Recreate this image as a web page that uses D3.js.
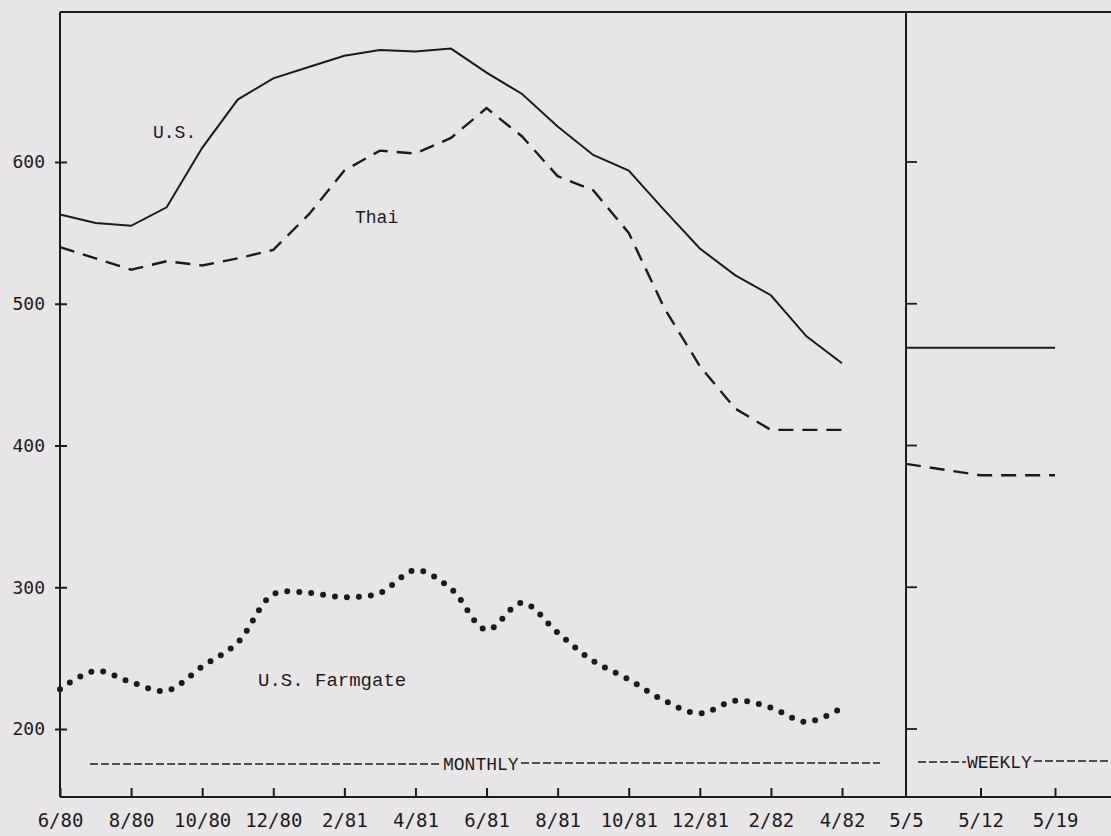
<!DOCTYPE html>
<html>
<head>
<meta charset="utf-8">
<script src="https://cdn.jsdelivr.net/npm/d3@7"></script>
<style>
  html, body { margin: 0; padding: 0; background: #e8e5e7; }
  svg { display: block; }
</style>
</head>
<body>
<svg id="chart" width="1111" height="836"></svg>
<script>
// ---- data ----
const months = ["6/80","7/80","8/80","9/80","10/80","11/80","12/80","1/81","2/81","3/81","4/81","5/81",
                "6/81","7/81","8/81","9/81","10/81","11/81","12/81","1/82","2/82","3/82","4/82"];
const monthLabels = ["6/80","8/80","10/80","12/80","2/81","4/81","6/81","8/81","10/81","12/81","2/82","4/82"];
const usPrice   = [563,557,555,568,610,644,659,667,675,679,678,680,663,648,625,605,594,566,539,520,506,477,458];
const thaiPrice = [540,532,524,530,527,532,538,563,594,608,606,617,638,618,590,580,550,497,456,426,411,411,411];
const farmgate  = [228,241,233,227,244,261,295,296,293,296,312,299,270,289,268,248,235,220,211,220,215,205,215];
const weeks = ["5/5","5/12","5/19"];
const usWeekly   = [469,469,469];
const thaiWeekly = [387,379,379];
const yTicks = [200,300,400,500,600];

(function () {
// ---- layout ----
const svg = d3.select("#chart");
const ink = "#1c1b1c";
const pLeft = 60, pRight = 1111, pTop = 12, pBottom = 797, divider = 906;

const x = d3.scaleLinear().domain([0, months.length - 1]).range([60, 842]);
const xw = d3.scalePoint().domain(weeks).range([divider, 1055]);
const y = d3.scaleLinear().domain([200, 600]).range([729, 162]);

svg.append("rect").attr("width", 1111).attr("height", 836).attr("fill", "#e8e5e7");

// frame
svg.append("line").attr("x1", pLeft).attr("x2", pRight).attr("y1", pTop).attr("y2", pTop)
  .attr("stroke", ink).attr("stroke-width", 2);
svg.append("line").attr("x1", pLeft).attr("x2", pLeft).attr("y1", pTop).attr("y2", pBottom)
  .attr("stroke", ink).attr("stroke-width", 2);
svg.append("line").attr("x1", divider).attr("x2", divider).attr("y1", pTop).attr("y2", pBottom)
  .attr("stroke", ink).attr("stroke-width", 2);

// bottom axis (monthly)
const monthIdx = monthLabels.map(m => months.indexOf(m));
const axM = svg.append("g").attr("transform", `translate(0,${pBottom})`)
  .call(d3.axisBottom(x).tickValues(monthIdx).tickFormat(i => months[i])
        .tickSizeInner(-9).tickSizeOuter(0).tickPadding(17));
axM.select(".domain").attr("d", `M${pLeft},0H${divider}`);
// bottom axis (weekly)
const axW = svg.append("g").attr("transform", `translate(0,${pBottom})`)
  .call(d3.axisBottom(xw).tickSizeInner(-9).tickSizeOuter(0).tickPadding(17));
axW.select(".domain").attr("d", `M${divider},0H${pRight}`);
[axM, axW].forEach(g => {
  g.selectAll("path, line").attr("stroke", ink).attr("stroke-width", 2);
  g.selectAll("text").attr("fill", ink).attr("font-family", "DejaVu Sans Mono")
   .attr("font-size", 19);
});
axW.selectAll(".tick").filter(d => d === "5/5").select("line").remove();

// left axis
const axL = svg.append("g").attr("transform", `translate(${pLeft},0)`)
  .call(d3.axisLeft(y).tickValues(yTicks).tickSizeInner(5).tickSizeOuter(0).tickPadding(10));
axL.select(".domain").remove();
axL.selectAll(".tick line").attr("x1", 7).attr("x2", -5).attr("stroke", ink).attr("stroke-width", 2);
axL.selectAll("text").attr("fill", ink).attr("font-family", "DejaVu Sans Mono").attr("font-size", 18);

// right panel ticks
svg.append("g").selectAll("line").data(yTicks).join("line")
  .attr("x1", divider).attr("x2", divider + 11)
  .attr("y1", d => y(d)).attr("y2", d => y(d))
  .attr("stroke", ink).attr("stroke-width", 1.8);

// monthly lines
const lineM = d3.line().x((d, i) => x(i)).y(d => y(d));
svg.append("path").attr("d", lineM(usPrice)).attr("fill", "none")
  .attr("stroke", ink).attr("stroke-width", 2);
svg.append("path").attr("d", lineM(thaiPrice)).attr("fill", "none")
  .attr("stroke", ink).attr("stroke-width", 2.4).attr("stroke-dasharray", "15,9");
const lineF = d3.line().x((d, i) => x(i)).y(d => y(d)).curve(d3.curveCatmullRom);
svg.append("path").attr("d", lineF(farmgate)).attr("fill", "none")
  .attr("stroke", ink).attr("stroke-width", 6).attr("stroke-linecap", "round")
  .attr("stroke-dasharray", "0,12");

// weekly lines
const lineW = d3.line().x((d, i) => xw(weeks[i])).y(d => y(d));
svg.append("path").attr("d", lineW(usWeekly)).attr("fill", "none")
  .attr("stroke", ink).attr("stroke-width", 2);
svg.append("path").attr("d", lineW(thaiWeekly)).attr("fill", "none")
  .attr("stroke", ink).attr("stroke-width", 2.4).attr("stroke-dasharray", "15,9");

// labels
const lab = (t, px, py, size) => svg.append("text").attr("x", px).attr("y", py)
  .attr("font-family", "Liberation Mono").attr("font-size", size || 19).attr("fill", ink).text(t);
lab("U.S.", 153, 138, 18);
lab("Thai", 355, 223, 18);
lab("U.S. Farmgate", 258, 686, 19);

// MONTHLY / WEEKLY bands
const dash = (x1, x2, yy) => svg.append("line").attr("x1", x1).attr("x2", x2).attr("y1", yy).attr("y2", yy)
  .attr("stroke", ink).attr("stroke-width", 1.6).attr("stroke-dasharray", "8,3");
dash(90, 441, 764);
lab("MONTHLY", 443, 770, 18);
dash(521, 880, 763);
dash(918, 966, 762);
lab("WEEKLY", 967, 768, 18);
dash(1034, 1108, 761);
})();
</script>
</body>
</html>
